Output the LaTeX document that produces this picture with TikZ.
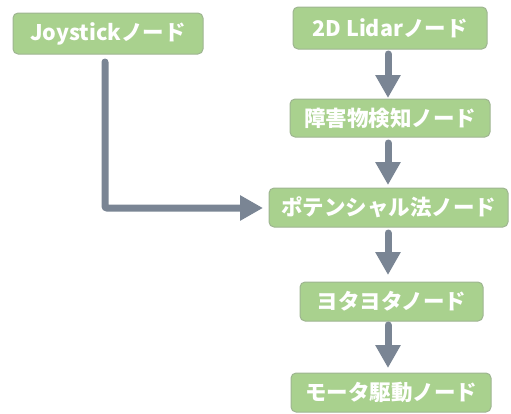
\documentclass[tikz,border=0pt]{standalone}
\usepackage{fontspec}
\newfontfamily\jp{Noto Sans CJK JP}
\usetikzlibrary{arrows.meta,calc}
\definecolor{nodefill}{HTML}{A9D18E}
\definecolor{nodedraw}{HTML}{9EB591}
\definecolor{arrowcol}{HTML}{7A8594}
\tikzset{
  nodebox/.style={draw=nodedraw, line width=1pt, fill=nodefill, rounded corners=5pt,
    text=white, font=\jp\bfseries\fontsize{21.5pt}{24pt}\selectfont, inner sep=0pt,
    anchor=center},
  flow/.style={draw=arrowcol, line width=7pt, line cap=round,
    -{Triangle[length=23pt,width=24pt]}}
}
\begin{document}
\begin{tikzpicture}[x=1pt,y=-1pt]
\useasboundingbox (0,0) rectangle (511,413);
\node[nodebox, minimum width=190pt, minimum height=41pt] (joy) at (108,33.5) {Joystickノード};
\node[nodebox, minimum width=194pt, minimum height=42pt] (lidar) at (390,28) {2D Lidarノード};
\node[nodebox, minimum width=200pt, minimum height=38pt] (obs) at (390,118) {障害物検知ノード};
\node[nodebox, minimum width=239pt, minimum height=39pt] (pot) at (388.5,207.5) {ポテンシャル法ノード};
\node[nodebox, minimum width=183pt, minimum height=39pt] (yota) at (391.5,301.5) {ヨタヨタノード};
\node[nodebox, minimum width=200pt, minimum height=39pt] (motor) at (391,392.5) {モータ駆動ノード};
\coordinate (a1s) at (388,54);  \coordinate (a1e) at (388,98);
\coordinate (a2s) at (388,143); \coordinate (a2e) at (388,185);
\coordinate (a3s) at (388,233); \coordinate (a3e) at (388,275);
\coordinate (a4s) at (388,325); \coordinate (a4e) at (388,368);
\coordinate (a5s) at (105,62);  \coordinate (a5c) at (105,208); \coordinate (a5e) at (263,208);
\draw[flow] (a1s) -- (a1e);
\draw[flow] (a2s) -- (a2e);
\draw[flow] (a3s) -- (a3e);
\draw[flow] (a4s) -- (a4e);
\draw[flow, rounded corners=2pt] (a5s) -- (a5c) -- (a5e);
\end{tikzpicture}
\end{document}
